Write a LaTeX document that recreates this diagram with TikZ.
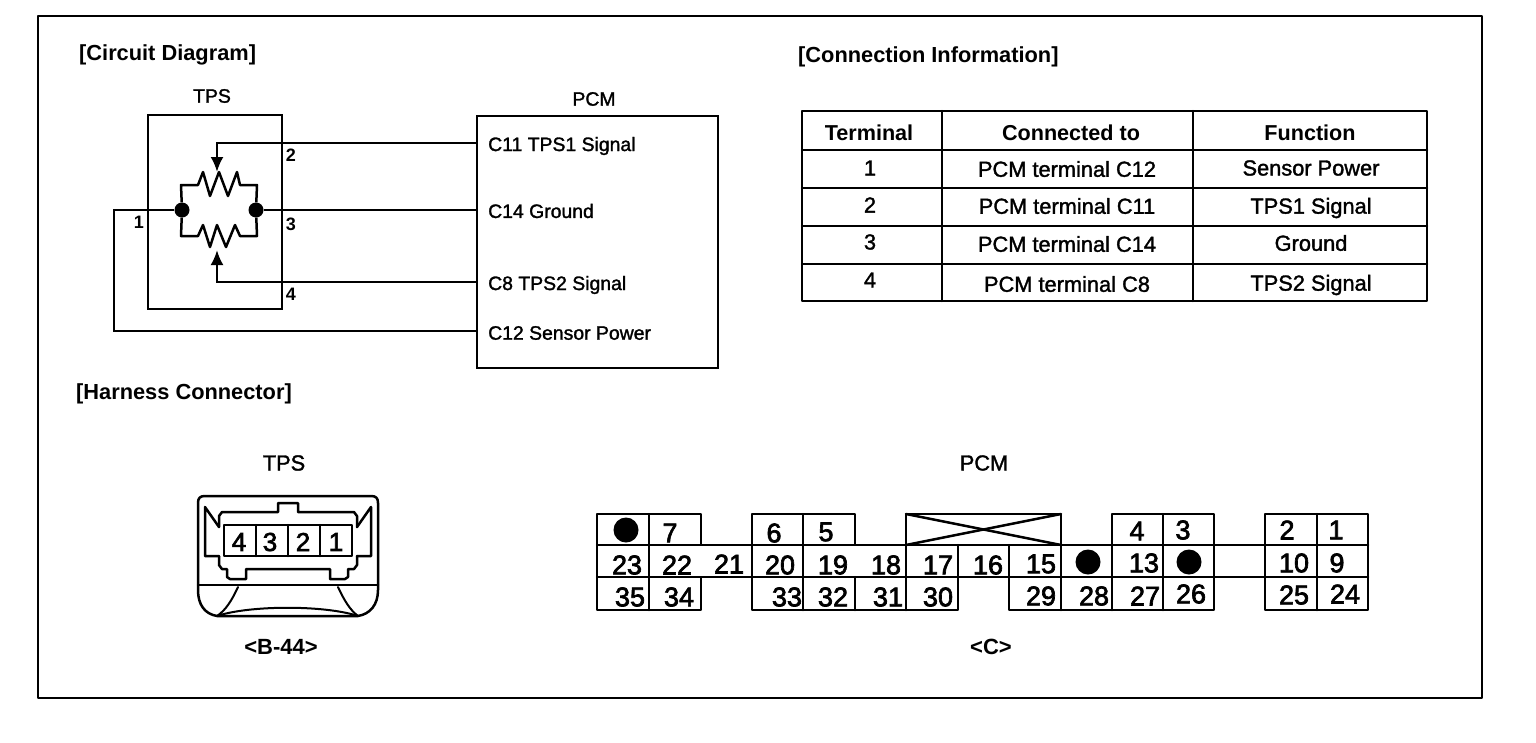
\documentclass[tikz,border=0pt]{standalone}
\usepackage{fontspec}
\setmainfont{Liberation Sans}
\newfontfamily\scanfont[FakeBold=1.5]{Liberation Sans}
\newfontfamily\numfont[FakeBold=2.5]{Liberation Sans}
\usetikzlibrary{arrows.meta}
\tikzset{
  ln/.style={line width=2.5pt,line cap=round,line join=round},
  thinln/.style={line width=2pt,line cap=round,line join=round},
  wire/.style={line width=2.5pt,line join=miter},
  head/.style={anchor=west,inner sep=0pt,font=\bfseries\fontsize{21.8}{22}\selectfont},
  lab/.style={inner sep=0pt,font=\scanfont\fontsize{19.4}{20}\selectfont},
  labw/.style={lab,anchor=west},
  cellt/.style={inner sep=0pt,font=\scanfont\fontsize{21.8}{22}\selectfont},
  cellh/.style={inner sep=0pt,font=\bfseries\fontsize{21.6}{22}\selectfont},
  tag/.style={inner sep=0pt,font=\bfseries\fontsize{22}{22}\selectfont},
  pinlab/.style={inner sep=0pt,font=\bfseries\fontsize{18}{18}\selectfont},
  num/.style={inner sep=0pt,font=\numfont\fontsize{27}{28}\selectfont},
  numb/.style={inner sep=0pt,font=\numfont\fontsize{26}{28}\selectfont},
  blob/.style={circle,fill=black,inner sep=0pt,minimum width=#1},
  tip/.style={-{Latex[length=15pt,width=13pt]}},
}
\begin{document}
\begin{tikzpicture}[x=1pt,y=-1pt]
\useasboundingbox (0,0) rectangle (1536,742);
\fill[white] (0,0) rectangle (1536,742);
\draw[ln] (38,16) rectangle (1482,698);

\node[head] (hcd) at (79,55) {[Circuit Diagram]};
\node[head] (hci) at (798,57) {[Connection Information]};
\node[head] (hhc) at (76,394) {[Harness Connector]};

% Circuit boxes
\node[lab] (ttps) at (212,96) {TPS};
\node[lab] (tpcm) at (594,99) {PCM};
\node[draw,line width=2.8pt,minimum width=134pt,minimum height=194pt,inner sep=0pt] (tpsbox) at (215,212) {};
\node[draw,line width=2.2pt,minimum width=241pt,minimum height=252pt,inner sep=0pt] (pcmbox) at (597.5,242) {};
\node[labw] (c11) at (488,146) {C11 TPS1 Signal};
\node[labw] (c14) at (488,211) {C14 Ground};
\node[labw] (c8) at (488,285) {C8 TPS2 Signal};
\node[labw] (c12) at (488,333) {C12 Sensor Power};
\node[pinlab] (p2) at (291,155) {2};
\node[pinlab] (p3) at (291,224) {3};
\node[pinlab] (p4) at (291,294) {4};
\node[pinlab] (p1) at (139,222) {1};

% Junctions and wire bends
\node[blob=15pt] (jl) at (182,210) {};
\node[blob=15pt] (jr) at (256,210) {};
\coordinate (w2a) at (217,172);
\coordinate (w2b) at (217,143);
\coordinate (w2c) at (477,143);
\coordinate (w4a) at (217,250);
\coordinate (w4b) at (217,282);
\coordinate (w4c) at (477,282);
\coordinate (w3c) at (477,210);
\coordinate (w1a) at (114,210);
\coordinate (w1b) at (114,331);
\coordinate (w1c) at (477,331);
\draw[wire,tip] (w2c) -- (w2b) -- (w2a);
\draw[wire,tip] (w4c) -- (w4b) -- (w4a);
\draw[wire] (jr) -- (w3c);
\draw[wire] (jl) -- (w1a) -- (w1b) -- (w1c);
% Resistors
\draw[ln,line cap=butt] (jl) -- (181,185) -- (198,185) -- (203,172) -- (210,196) -- (219,172) -- (228,196) -- (237,172) -- (240,185) -- (257,185) -- (jr);
\draw[ln,line cap=butt] (jl) -- (181,236) -- (198,236) -- (203,225) -- (210,247) -- (217,225) -- (226,247) -- (235,225) -- (240,236) -- (257,236) -- (jr);

% Table
\draw[ln] (802,111) rectangle (1427,301);
\foreach \yy in {150,188,226,264} \draw[ln] (802,\yy) -- (1427,\yy);
\foreach \xx in {942,1193} \draw[ln] (\xx,111) -- (\xx,301);
\node[cellh] (th1) at (869,133) {Terminal};
\node[cellh] (th2) at (1071,133) {Connected to};
\node[cellh] (th3) at (1310,133) {Function};
\node[cellt] (a1) at (870,168) {1};
\node[cellt] (a2) at (870,205) {2};
\node[cellt] (a3) at (870,242) {3};
\node[cellt] (a4) at (870,280) {4};
\node[cellt] (b1) at (1067,169) {PCM terminal C12};
\node[cellt] (b2) at (1067,206) {PCM terminal C11};
\node[cellt] (b3) at (1067,244) {PCM terminal C14};
\node[cellt] (b4) at (1067,284) {PCM terminal C8};
\node[cellt] (c1) at (1311,168) {Sensor Power};
\node[cellt] (c2) at (1311,208) {TPS1 Signal};
\node[cellt] (c3) at (1311,243) {Ground};
\node[cellt] (c4) at (1311,285) {TPS2 Signal};

% TPS connector
\node[cellt] (ctps) at (284,463) {TPS};
\node[tag] (cb44) at (281,647) {<B-44>};
\draw[ln] (205,496) -- (371,496) .. controls (376,496) and (378,498) .. (378,503) -- (378,590) .. controls (378,605) and (370,614) .. (358,616) -- (217,616) .. controls (205,614) and (198,605) .. (198,590) -- (198,503) .. controls (198,498) and (200,496) .. (205,496) -- cycle;
\draw[ln] (198,585) -- (378,585);
\draw[ln] (219,527) -- (219,516) -- (222,512) -- (278,512) -- (278,503) -- (298,503) -- (298,512) -- (354,512) -- (357,516) -- (357,527);
\draw[ln] (219,556) -- (219,565) -- (222,569) -- (227,569) -- (227,577) -- (230,579) -- (246,579) -- (246,569) -- (330,569) -- (330,579) -- (345,579) -- (348,577) -- (348,569) -- (354,569) -- (357,565) -- (357,556);
\draw[ln] (224,525) rectangle (352,556);
\foreach \xx in {256,288,320} \draw[ln] (\xx,525) -- (\xx,556);
\draw[ln] (219,527) -- (205,507) -- (205,556) -- (219,556);
\draw[ln] (357,527) -- (371,507) -- (371,556) -- (357,556);
\draw[thinln] (238,587) .. controls (232,600) and (226,610) .. (217,616);
\draw[thinln] (338,587) .. controls (344,600) and (350,610) .. (358,616);
\draw[thinln] (217,616) .. controls (250,605) and (325,605) .. (358,616);
\node[numb] (n4) at (239,542) {4};
\node[numb] (n3) at (270,542) {3};
\node[numb] (n2) at (303,542) {2};
\node[numb] (n1) at (336,542) {1};

% PCM connector
\node[cellt] (cpcm) at (984,463) {PCM};
\node[tag] (cc) at (991,647) {<C>};
\foreach \xa/\xb in {597/701,752/855,1112/1214,1265/1368} \draw[ln] (\xa,514) rectangle (\xb,545);
\foreach \xx in {649,803,1163,1317} \draw[ln] (\xx,514) -- (\xx,545);
\draw[ln] (906,514) rectangle (1061,545);
\draw[ln] (906,514) -- (1061,545);
\draw[ln] (906,545) -- (1061,514);
\draw[ln] (597,545) -- (1368,545);
\draw[ln] (597,577) -- (1368,577);
\foreach \xx in {597,649,752,803,906,958,1009,1061,1112,1163,1214,1265,1317,1368} \draw[ln] (\xx,545) -- (\xx,577);
\foreach \xa/\xb in {597/701,752/958,1009/1214,1265/1368} \draw[ln] (\xa,577) rectangle (\xb,610);
\foreach \xx in {649,803,855,906,1061,1112,1163,1317} \draw[ln] (\xx,577) -- (\xx,610);
\node[blob=25pt] (d1) at (626,530) {};
\node[blob=25pt] (d2) at (1088,562) {};
\node[blob=25pt] (d3) at (1189,562) {};
\foreach \lbl/\xx/\yy in {7/670/533,6/774/533,5/826/532,4/1137/531,3/1183/530,2/1287/530,1/1336/530,
 23/627/565,22/677/565,21/729/564,20/780/565,19/833/565,18/886/565,17/938/565,16/988/565,15/1041/564,13/1144/563,10/1294/563,9/1337/563,
 35/630/597,34/679/597,33/787/597,32/833/597,31/888/597,30/938/597,29/1041/596,28/1094/596,27/1145/596,26/1191/594,25/1294/595,24/1345/594}
  \node[num] (pin\lbl) at (\xx,\yy) {\lbl};
\end{tikzpicture}
\end{document}
